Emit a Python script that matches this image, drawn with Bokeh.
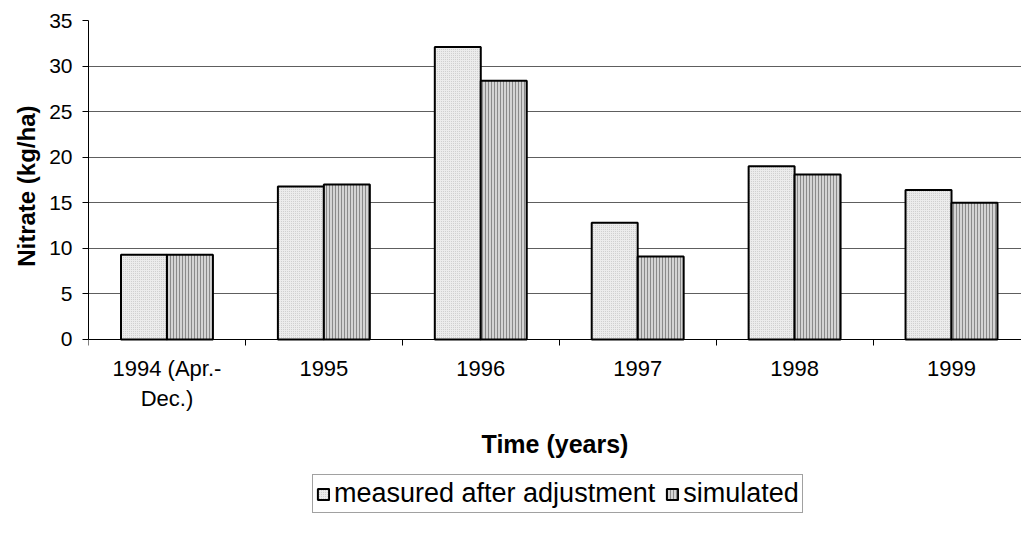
from bokeh.plotting import figure
from bokeh.models import Range1d, FixedTicker, Legend, LegendItem, Title
from bokeh.embed import file_html
from bokeh.resources import INLINE

categories = ["1994 (Apr.-\nDec.)", "1995", "1996", "1997", "1998", "1999"]
measured = [9.3, 16.8, 32.1, 12.8, 19.0, 16.4]
simulated = [9.3, 17.0, 28.4, 9.1, 18.1, 15.0]
y_ticks = [0, 5, 10, 15, 20, 25, 30, 35]

FONT = "Liberation Sans"
n = len(categories)
centers = [i + 0.5 for i in range(n)]
bw = 0.293
xm = [c - bw / 2 for c in centers]
xs = [c + bw / 2 for c in centers]

# frame extends below zero so the axis (fixed at 0) and legend sit inside it
p = figure(frame_width=933, frame_height=500,
           min_border_left=88, min_border_top=20, min_border_right=0, min_border_bottom=0,
           x_range=Range1d(0, 5.946), y_range=Range1d(-19.86, 35),
           output_backend="svg", toolbar_location=None)
p.outline_line_color = None
p.background_fill_color = "white"
p.border_fill_color = "white"

p.xgrid.visible = False
p.ygrid.ticker = FixedTicker(ticks=y_ticks)
p.ygrid.grid_line_color = "#5e5e5e"
p.ygrid.grid_line_width = 1

r1 = p.vbar(x=xm, top=measured, width=bw, bottom=0,
            fill_color="#ececec", line_color="black", line_width=2,
            hatch_pattern="dot", hatch_color="#c8c8c8", hatch_scale=2, hatch_weight=1)
r2 = p.vbar(x=xs, top=simulated, width=bw, bottom=0,
            fill_color="#d4d4d4", line_color="black", line_width=2,
            hatch_pattern="vertical_line", hatch_color="#8a8a8a", hatch_scale=3, hatch_weight=1)

xa = p.xaxis[0]
xa.fixed_location = 0
xa.ticker = FixedTicker(ticks=centers, minor_ticks=list(range(n + 1)))
xa.major_label_overrides = {c: lab for c, lab in zip(centers, categories)}
xa.major_tick_out = 0
xa.major_tick_in = 0
xa.minor_tick_out = 6
xa.minor_tick_in = 0
xa.minor_tick_line_color = "black"
xa.axis_line_color = "black"
xa.axis_line_width = 1
xa.major_label_text_font = FONT
xa.major_label_text_font_size = "22px"
xa.major_label_text_color = "black"
xa.major_label_standoff = 11
xa.axis_label = "Time (years)"
xa.axis_label_text_font = FONT
xa.axis_label_text_font_size = "25px"
xa.axis_label_text_font_style = "bold"
xa.axis_label_text_color = "black"
xa.axis_label_standoff = 15

ya = p.yaxis[0]
ya.bounds = (0, 35)
ya.ticker = FixedTicker(ticks=y_ticks)
ya.major_tick_out = 6
ya.major_tick_in = 0
ya.minor_tick_out = 0
ya.minor_tick_in = 0
ya.axis_line_color = "black"
ya.major_tick_line_color = "black"
ya.major_label_text_font = FONT
ya.major_label_text_font_size = "21px"
ya.major_label_text_color = "black"
ya.major_label_standoff = 10

ytitle = Title(text="Nitrate (kg/ha)", align="right", offset=85, standoff=14,
               text_font=FONT, text_font_size="24px", text_font_style="bold",
               text_color="black")
p.add_layout(ytitle, "left")

legend = Legend(items=[LegendItem(label="measured after adjustment", renderers=[r1]),
                       LegendItem(label="simulated", renderers=[r2])],
                orientation="horizontal", location=(224, 7))
legend.label_text_font = FONT
legend.label_text_font_size = "27px"
legend.label_text_color = "black"
legend.label_height = 26
legend.glyph_width = 14
legend.glyph_height = 14
legend.label_standoff = 4
legend.spacing = 10
legend.padding = 3
legend.margin = 0
legend.border_line_color = "#444444"
legend.border_line_width = 1
legend.background_fill_color = "white"
legend.background_fill_alpha = 1
p.add_layout(legend, "center")

open("out.html", "w").write(file_html(p, INLINE))
